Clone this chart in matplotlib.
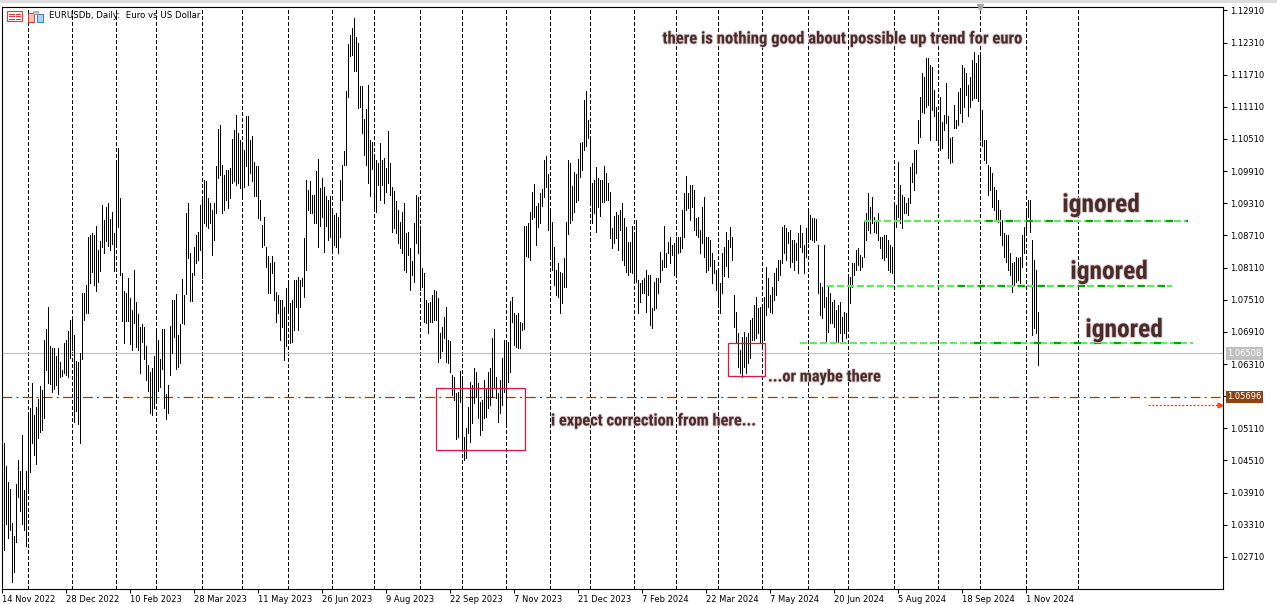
import numpy as np
import matplotlib
matplotlib.use("Agg")
import matplotlib.pyplot as plt
import matplotlib.patheffects as pe
from matplotlib.patches import Rectangle

plt.rcParams['lines.scale_dashes'] = False
plt.rcParams['font.family'] = ['DejaVu Sans']

# daily EURUSD bars, price x 10000, first bar = 15 Nov 2022
high_pips = [
    10484, 10441, 10410, 10398, 10335, 10310, 10407, 10451, 10432, 10499,
    10396, 10432, 10539, 10548, 10596, 10535, 10551, 10566, 10590, 10583,
    10675, 10697, 10738, 10665, 10660, 10660, 10646, 10661, 10635, 10620,
    10671, 10676, 10693, 10714, 10717, 10686, 10637, 10634, 10651, 10763,
    10763, 10779, 10869, 10871, 10876, 10871, 10889, 10843, 10861, 10928,
    10900, 10925, 10932, 10902, 10915, 10876, 11009, 11034, 10941, 10800,
    10768, 10763, 10792, 10754, 10732, 10806, 10747, 10724, 10701, 10706,
    10701, 10665, 10630, 10617, 10624, 10646, 10694, 10675, 10641, 10697,
    10697, 10575, 10591, 10702, 10750, 10750, 10762, 10685, 10706, 10789,
    10760, 10912, 10931, 10839, 10800, 10850, 10872, 10878, 10928, 10937,
    10975, 10972, 10940, 10931, 10919, 10931, 11001, 11069, 11077, 11003,
    10984, 10993, 10993, 10996, 11051, 11067, 11096, 11062, 11049, 11043,
    11031, 11093, 11093, 11049, 11056, 11009, 11000, 11000, 10937, 10891,
    10906, 10850, 10832, 10819, 10832, 10822, 10766, 10760, 10751, 10751,
    10738, 10772, 10782, 10744, 10751, 10788, 10788, 10794, 10788, 10791,
    10866, 10975, 10956, 10972, 10947, 10947, 10992, 11013, 10959, 10978,
    10962, 10944, 10937, 10944, 10919, 10909, 10912, 10906, 10975, 11003,
    11028, 11141, 11228, 11245, 11259, 11276, 11241, 11230, 11149, 11149,
    11088, 11107, 11151, 11049, 11046, 11021, 11012, 11006, 11044, 11012,
    11015, 10996, 11066, 11006, 10961, 10954, 10935, 10919, 10897, 10915,
    10931, 10875, 10878, 10847, 10823, 10894, 10947, 10943, 10884, 10811,
    10800, 10751, 10744, 10746, 10760, 10769, 10767, 10754, 10688, 10701,
    10719, 10737, 10676, 10674, 10611, 10607, 10576, 10579, 10618, 10601,
    10495, 10511, 10551, 10598, 10592, 10623, 10617, 10595, 10561, 10564,
    10601, 10586, 10617, 10623, 10680, 10696, 10606, 10576, 10601, 10642,
    10676, 10670, 10673, 10749, 10757, 10726, 10723, 10726, 10710, 10707,
    10889, 10889, 10895, 10914, 10953, 10967, 10926, 10932, 10950, 10958,
    11012, 11019, 10986, 10919, 10897, 10850, 10807, 10819, 10803, 10800,
    10828, 10897, 11011, 11006, 10963, 10990, 10986, 11013, 11043, 11046,
    11124, 11141, 11086, 11052, 10968, 10975, 10998, 10979, 10975, 10975,
    11001, 10987, 10968, 10952, 10884, 10907, 10915, 10909, 10919, 10932,
    10903, 10887, 10859, 10859, 10889, 10876, 10900, 10788, 10782, 10788,
    10791, 10807, 10797, 10797, 10735, 10785, 10791, 10791, 10841, 10825,
    10889, 10838, 10859, 10869, 10853, 10856, 10869, 10868, 10869, 10919,
    10950, 10982, 10950, 10965, 10965, 10956, 10903, 10906, 10881, 10925,
    10943, 10869, 10869, 10863, 10838, 10825, 10807, 10807, 10782, 10838,
    10850, 10878, 10863, 10887, 10869, 10760, 10729, 10688, 10657, 10682,
    10691, 10682, 10688, 10713, 10716, 10741, 10757, 10735, 10738, 10738,
    10757, 10813, 10791, 10760, 10775, 10800, 10810, 10825, 10826, 10887,
    10891, 10884, 10878, 10881, 10863, 10863, 10856, 10876, 10891, 10875,
    10853, 10884, 10915, 10909, 10903, 10903, 10901, 10853, 10782, 10775,
    10853, 10757, 10775, 10763, 10747, 10751, 10732, 10741, 10747, 10719,
    10729, 10726, 10794, 10794, 10819, 10819, 10844, 10847, 10835, 10831,
    10900, 10912, 10950, 10925, 10943, 10906, 10900, 10912, 10869, 10869,
    10872, 10872, 10863, 10853, 10850, 10928, 10928, 11009, 10965, 10947,
    10943, 10931, 10940, 10999, 11006, 11031, 11031, 11087, 11130, 11174,
    11167, 11202, 11202, 11189, 11186, 11143, 11111, 11096, 11130, 11083,
    11096, 11155, 11093, 11052, 11055, 11115, 11087, 11139, 11146, 11189,
    11183, 11174, 11152, 11167, 11198, 11214, 11192, 11208, 11211, 11105,
    11049, 11049, 11003, 10999, 10987, 10962, 10956, 10937, 10919, 10900,
    10875, 10872, 10872, 10838, 10819, 10822, 10831, 10828, 10831, 10872,
    10887, 10915, 10938, 10937, 10863, 10825, 10807, 10729,
]
low_pips = [
    10283, 10332, 10307, 10321, 10225, 10242, 10299, 10383, 10357, 10332,
    10321, 10291, 10395, 10429, 10483, 10462, 10444, 10492, 10504, 10508,
    10531, 10620, 10595, 10594, 10578, 10584, 10591, 10575, 10607, 10608,
    10614, 10610, 10607, 10643, 10658, 10523, 10544, 10519, 10484, 10640,
    10714, 10727, 10726, 10783, 10803, 10778, 10768, 10784, 10805, 10849,
    10838, 10860, 10851, 10843, 10855, 10804, 10852, 10887, 10797, 10712,
    10671, 10712, 10711, 10668, 10658, 10707, 10663, 10657, 10615, 10672,
    10640, 10602, 10580, 10540, 10535, 10549, 10566, 10580, 10589, 10622,
    10548, 10528, 10540, 10610, 10652, 10681, 10621, 10626, 10632, 10707,
    10706, 10762, 10828, 10748, 10748, 10797, 10819, 10825, 10844, 10791,
    10894, 10888, 10884, 10894, 10835, 10863, 10912, 10978, 10984, 10912,
    10919, 10937, 10922, 10940, 10968, 10972, 10965, 10968, 10959, 10944,
    10962, 11000, 10965, 10987, 10972, 10944, 10944, 10903, 10900, 10850,
    10853, 10813, 10763, 10763, 10800, 10751, 10710, 10726, 10676, 10701,
    10639, 10664, 10726, 10670, 10673, 10695, 10738, 10695, 10738, 10776,
    10757, 10807, 10919, 10912, 10912, 10894, 10894, 10850, 10888, 10906,
    10841, 10888, 10863, 10869, 10841, 10853, 10850, 10838, 10869, 10937,
    11003, 11003, 11130, 11205, 11208, 11177, 11177, 11108, 11110, 11063,
    11021, 11003, 10968, 10945, 10995, 10920, 10915, 10965, 10937, 10965,
    10931, 10953, 10968, 10947, 10877, 10884, 10875, 10856, 10847, 10838,
    10807, 10803, 10835, 10769, 10797, 10785, 10856, 10838, 10769, 10775,
    10710, 10707, 10688, 10710, 10710, 10713, 10713, 10635, 10642, 10655,
    10679, 10635, 10632, 10617, 10573, 10564, 10491, 10495, 10561, 10471,
    10452, 10455, 10502, 10486, 10520, 10558, 10570, 10530, 10499, 10508,
    10530, 10533, 10548, 10555, 10570, 10586, 10568, 10523, 10539, 10555,
    10579, 10520, 10598, 10617, 10710, 10667, 10663, 10660, 10660, 10695,
    10696, 10833, 10831, 10825, 10901, 10905, 10854, 10886, 10894, 10926,
    10943, 10962, 10881, 10831, 10807, 10779, 10760, 10757, 10726, 10744,
    10775, 10775, 10874, 10894, 10899, 10915, 10934, 10937, 10981, 10993,
    11031, 11037, 11052, 10936, 10894, 10912, 10878, 10925, 10907, 10934,
    10934, 10937, 10937, 10866, 10847, 10856, 10866, 10844, 10881, 10825,
    10816, 10803, 10797, 10803, 10800, 10782, 10785, 10726, 10747, 10763,
    10763, 10729, 10760, 10704, 10698, 10732, 10735, 10763, 10785, 10807,
    10813, 10813, 10838, 10819, 10835, 10797, 10797, 10838, 10841, 10847,
    10869, 10919, 10922, 10900, 10925, 10881, 10872, 10869, 10839, 10856,
    10831, 10803, 10807, 10814, 10782, 10800, 10769, 10738, 10726, 10764,
    10795, 10814, 10794, 10850, 10825, 10701, 10673, 10626, 10614, 10607,
    10626, 10614, 10632, 10642, 10676, 10676, 10679, 10688, 10670, 10667,
    10676, 10723, 10738, 10729, 10726, 10751, 10760, 10788, 10797, 10819,
    10838, 10825, 10856, 10813, 10822, 10807, 10825, 10800, 10850, 10841,
    10800, 10831, 10859, 10864, 10863, 10859, 10863, 10763, 10723, 10716,
    10738, 10670, 10691, 10707, 10707, 10701, 10673, 10673, 10688, 10673,
    10688, 10679, 10698, 10744, 10775, 10797, 10807, 10816, 10807, 10813,
    10831, 10863, 10881, 10875, 10894, 10878, 10875, 10863, 10847, 10828,
    10825, 10831, 10807, 10803, 10800, 10782, 10887, 10906, 10894, 10884,
    10912, 10912, 10909, 10931, 10971, 10956, 10987, 11043, 11055, 11102,
    11099, 11111, 11115, 11049, 11105, 11093, 11049, 11043, 11031, 11034,
    11068, 11080, 11015, 11006, 11009, 11071, 11071, 11077, 11099, 11083,
    11111, 11133, 11093, 11111, 11124, 11127, 11127, 11121, 11049, 11037,
    11012, 11006, 10947, 10956, 10925, 10919, 10900, 10897, 10872, 10853,
    10831, 10822, 10807, 10797, 10766, 10779, 10785, 10788, 10782, 10813,
    10838, 10872, 10906, 10878, 10685, 10698, 10688, 10629,
]

# bar index of the first bar of each month (dotted separators)
month_starts = [12, 34, 56, 76, 99, 119, 142, 164, 185, 208, 229, 251, 273,
                293, 315, 336, 357, 379, 402, 422, 445, 467, 488, 511, 537]

date_ticks = list(range(-1, 512, 32))
date_labels = ["14 Nov 2022", "28 Dec 2022", "10 Feb 2023", "28 Mar 2023",
               "11 May 2023", "26 Jun 2023", "9 Aug 2023", "22 Sep 2023",
               "7 Nov 2023", "21 Dec 2023", "7 Feb 2024", "22 Mar 2024",
               "7 May 2024", "20 Jun 2024", "5 Aug 2024", "18 Sep 2024",
               "1 Nov 2024"]
price_ticks = [1.02710, 1.03310, 1.03910, 1.04510, 1.05110, 1.05710, 1.06310,
               1.06910, 1.07510, 1.08110, 1.08710, 1.09310, 1.09910, 1.10510,
               1.11110, 1.11710, 1.12310, 1.12910]

bid_price = 1.06508
mark_price = 1.05696
arrow_price = 1.05545

# "ignored" levels
level_prices = [1.0898, 1.0777, 1.0670]
level_start = [430, 411.5, 398]
level_dark_start = [486, 472, 480]
level_end = [592, 584, 594.5]

# red boxes: (first bar, last bar, low, high)
boxes = [(216.2, 260.4, 1.0470, 1.0587), (362.2, 380.3, 1.0609, 1.0671)]

highs = np.array(high_pips) / 10000
lows = np.array(low_pips) / 10000
bars = np.arange(len(highs))

W, H = 1277, 604
fig = plt.figure(figsize=(W / 100, H / 100), dpi=100)
ax = fig.add_axes([2 / W, (H - 589) / H, (1223 - 2) / W, (589 - 6.5) / H])

for m in month_starts:
    ax.axvline(m, color='black', lw=0.6, dashes=(2.2, 1.5), antialiased=False, zorder=1)

ax.axhline(bid_price, color='#c0c0c0', lw=0.9, zorder=1)
ax.axhline(mark_price, color='#8b4513', lw=0.9, dashes=(7, 3, 1.5, 3), zorder=1)

ax.vlines(bars, lows, highs, colors='black', linewidth=0.5, antialiased=False, zorder=2)

for p, s, d, e in zip(level_prices, level_start, level_dark_start, level_end):
    ax.hlines(p, s, e, colors='#5cee5c', lw=1.6, linestyles=[(0, (5, 2.2))], zorder=3)
    ax.hlines(p, d, e, colors='#00a800', lw=1.6, linestyles=[(7.2, (5, 9.4))], zorder=3)

for b0, b1, lo, hi in boxes:
    ax.add_patch(Rectangle((b0, lo), b1 - b0, hi - lo, fill=False,
                           ec='#e0143c', lw=0.9, zorder=4))

ax.plot([572, 607.6], [arrow_price, arrow_price], color='#ff4500', lw=0.9,
        dashes=(1.5, 1.2), clip_on=False, zorder=4)
ax.plot([608.2], [arrow_price], marker='>', ms=3.5, color='#ff4500',
        clip_on=False, zorder=4)

note_font = ['Roboto Condensed', 'Liberation Sans Narrow', 'DejaVu Sans']
note_kw = dict(family=note_font, weight='bold', stretch='condensed', color='#4a2b2b',
               zorder=6,
               path_effects=[pe.withStroke(linewidth=1.3, foreground='#dccccc')])
ax.text(419.5, 1.12376, "there is nothing good about possible up trend for euro",
        ha='center', va='center', fontsize=12, **note_kw)
ax.text(548.5, 1.0928, "ignored", ha='center', va='center', fontsize=18.3, **note_kw)
ax.text(552.5, 1.0803, "ignored", ha='center', va='center', fontsize=18.3, **note_kw)
ax.text(560, 1.06945, "ignored", ha='center', va='center', fontsize=18.3, **note_kw)
ax.text(382, 1.06068, "...or maybe there", ha='left', va='center', fontsize=11.8, **note_kw)
ax.text(273.5, 1.05247, "i expect correction from here...", ha='left', va='center',
        fontsize=11.8, **note_kw)

ax.set_xlim(-1, 609.5)
ax.set_ylim(1.02111, 1.12983)

ax.yaxis.tick_right()
ax.set_yticks(price_ticks)
# the 1.05710 label sits under the marked-price box
ax.set_yticklabels(["" if abs(p - mark_price) < 0.0003 else f"{p:.5f}" for p in price_ticks])
ax.tick_params(axis='y', length=3, width=0.8, labelsize=6, pad=2, direction='out')
ax.set_xticks(date_ticks)
ax.set_xticklabels(date_labels, ha='left')
ax.tick_params(axis='x', length=3, width=0.8, labelsize=6, pad=1.5, direction='out')
for sp in ax.spines.values():
    sp.set_linewidth(0.8)
    sp.set_color('black')

box_kw = dict(transform=ax.get_yaxis_transform(), ha='left', va='center',
              fontsize=6, color='white', clip_on=False, zorder=7)
ax.text(1.0035, bid_price, f"{bid_price:.5f}",
        bbox=dict(boxstyle='square,pad=0.2', fc='#c0c0c0', ec='none'), **box_kw)
ax.text(1.0035, mark_price, f"{mark_price:.5f}",
        bbox=dict(boxstyle='square,pad=0.2', fc='#8b4513', ec='none'), **box_kw)

# chart shift marker at the top
ax.plot([488], [1.12983], marker='v', ms=5, color='#a8a8a8', clip_on=False, zorder=7)

# window strip and title icons
def fpx(x, y):
    return x / W, 1 - y / H

fig.add_artist(Rectangle(fpx(0, 3), 1, 3 / H, transform=fig.transFigure,
                         fc='#dcdcdc', ec='none'))
x0, y0 = fpx(7, 21)
fig.add_artist(Rectangle((x0, y0), 15 / W, 10 / H, transform=fig.transFigure,
                         fc='white', ec='#e03c3c', lw=0.8))
for k in range(3):
    yy = 1 - (13.5 + 2.5 * k) / H
    fig.add_artist(plt.Line2D([9 / W, 13.5 / W], [yy, yy], transform=fig.transFigure,
                              color='#e03c3c', lw=0.8))
    fig.add_artist(plt.Line2D([15.5 / W, 20 / W], [yy, yy], transform=fig.transFigure,
                              color='#e03c3c', lw=0.8))
x0, y0 = fpx(28, 22)
fig.add_artist(Rectangle((x0, y0), 6 / W, 9 / H, transform=fig.transFigure,
                         fc='#f6c0b0', ec='#d04040', lw=0.7))
x0, y0 = fpx(37, 22)
fig.add_artist(Rectangle((x0, y0), 6 / W, 8 / H, transform=fig.transFigure,
                         fc='#a8d4f4', ec='#3080c0', lw=0.7))
x0, y0 = fpx(33, 14)
fig.add_artist(Rectangle((x0, y0), 5 / W, 3 / H, transform=fig.transFigure,
                         fc='#c8c8c8', ec='#909090', lw=0.5))
fig.text(49 / W, 1 - 16 / H, "EURUSDb, Daily:  Euro vs US Dollar", fontsize=6.2,
         va='center', ha='left')

fig.savefig("out.png", dpi=100)
